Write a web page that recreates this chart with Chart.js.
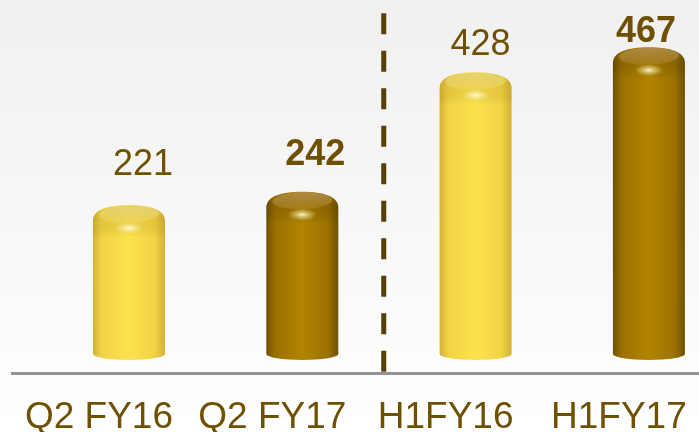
<!DOCTYPE html>
<html>
<head>
<meta charset="utf-8">
<script src="https://cdn.jsdelivr.net/npm/chart.js@4/dist/chart.umd.min.js"></script>
<style>
  html, body { margin: 0; padding: 0; }
  body {
    width: 699px; height: 432px; overflow: hidden;
    background: linear-gradient(to bottom, #f0f0f0 0px, #f4f4f4 120px, #f9f9f9 260px, #fdfdfd 372px, #ffffff 432px);
  }
  #wrap { position: relative; width: 699px; height: 432px; }
</style>
</head>
<body>
<div id="wrap"><canvas id="c" width="699" height="432"></canvas></div>
<script>
// Category labels along the axis, in drawing order
const categories = ['Q2 FY16', 'Q2 FY17', 'H1FY16', 'H1FY17'];
// Reporting periods; each has a FY16 and a FY17 bar
const periods = ['Q2', 'H1'];
const fy16Values = [221, 428];
const fy17Values = [242, 467];

const FONT = "'Liberation Sans', Arial, Helvetica, sans-serif";
const TEXT_BROWN = '#6f5000';

// position on the x axis: two bars per period
const toPoints = (vals, slot) => vals.map((v, p) => ({ x: p * 2 + slot, y: v }));

// Per-bar nudges (dx, lift above the top of the bar) for the value labels
const labelNudge = [[14, 30], [13, 27], [5, 17], [-3, 5]];

function drawCylinder(ctx, cx, top, bottom, w, pal) {
  const hw = w / 2;
  const capR = 16;   // rounding of the top rim
  const ryB = 6;     // bottom ellipse half-height

  ctx.save();
  // body silhouette
  ctx.beginPath();
  ctx.moveTo(cx - hw, bottom - ryB);
  ctx.lineTo(cx - hw, top + capR);
  ctx.bezierCurveTo(cx - hw, top + capR * 0.3, cx - hw * 0.6, top, cx, top);
  ctx.bezierCurveTo(cx + hw * 0.6, top, cx + hw, top + capR * 0.3, cx + hw, top + capR);
  ctx.lineTo(cx + hw, bottom - ryB);
  ctx.ellipse(cx, bottom - ryB, hw, ryB, 0, 0, Math.PI, false);
  ctx.closePath();
  const g = ctx.createLinearGradient(cx - hw, 0, cx + hw, 0);
  g.addColorStop(0, pal.edge);
  g.addColorStop(0.12, pal.mid);
  g.addColorStop(0.5, pal.bright);
  g.addColorStop(0.86, pal.mid);
  g.addColorStop(1, pal.edge);
  ctx.fillStyle = g;
  ctx.fill();
  ctx.clip();

  // darker band along the rounded rim
  const rim = ctx.createLinearGradient(0, top, 0, top + capR + 16);
  rim.addColorStop(0, 'rgba(0,0,0,0)');
  rim.addColorStop(0.55, pal.rimShade);
  rim.addColorStop(1, 'rgba(0,0,0,0)');
  ctx.fillStyle = rim;
  ctx.fillRect(cx - hw, top, w, capR + 16);

  // flat top face
  ctx.beginPath();
  ctx.ellipse(cx, top + 9, hw - 6, 8.5, -0.03, 0, Math.PI * 2);
  const f = ctx.createLinearGradient(0, top, 0, top + 18);
  f.addColorStop(0, pal.faceTop);
  f.addColorStop(1, pal.faceBottom);
  ctx.fillStyle = f;
  ctx.fill();

  // specular highlight on the front of the rim
  ctx.translate(cx, top + 23);
  ctx.scale(2.4, 1);
  const h = ctx.createRadialGradient(0, 0, 0, 0, 0, 6);
  h.addColorStop(0, 'rgba(255,255,235,0.9)');
  h.addColorStop(0.45, 'rgba(255,250,200,0.45)');
  h.addColorStop(1, 'rgba(255,250,200,0)');
  ctx.fillStyle = h;
  ctx.beginPath();
  ctx.arc(0, 0, 6, 0, Math.PI * 2);
  ctx.fill();
  ctx.restore();
}

const palettes = {
  light: { edge: '#d2b236', mid: '#f1d345', bright: '#fde24e', rimShade: 'rgba(170,130,0,0.16)',
           faceTop: 'rgba(225,205,120,0.85)', faceBottom: 'rgba(240,215,95,0.6)' },
  dark:  { edge: '#6f5100', mid: '#9a7100', bright: '#b28400', rimShade: 'rgba(60,40,0,0.16)',
           faceTop: 'rgba(170,140,80,0.9)', faceBottom: 'rgba(170,130,40,0.55)' }
};

const cylinderPlugin = {
  id: 'cylinders',
  afterDatasetsDraw(chart) {
    const ctx = chart.ctx;
    const yScale = chart.scales.y;
    const base = yScale.getPixelForValue(0) + 13;
    chart.data.datasets.forEach((ds, di) => {
      const meta = chart.getDatasetMeta(di);
      meta.data.forEach(el => {
        drawCylinder(ctx, el.x, el.y, base, el.width, palettes[ds.cylinder]);
      });
    });
  }
};

const valueLabelPlugin = {
  id: 'valueLabels',
  afterDatasetsDraw(chart) {
    const ctx = chart.ctx;
    ctx.save();
    ctx.fillStyle = TEXT_BROWN;
    ctx.textAlign = 'center';
    ctx.textBaseline = 'alphabetic';
    chart.data.datasets.forEach((ds, di) => {
      const meta = chart.getDatasetMeta(di);
      meta.data.forEach((el, i) => {
        const pt = ds.data[i];
        const n = labelNudge[pt.x];
        ctx.font = (ds.boldLabels ? 'bold ' : '') + '36px ' + FONT;
        ctx.fillText(String(pt.y), el.x + n[0], el.y - n[1]);
      });
    });
    ctx.restore();
  }
};

// dashed divider between the quarter and half-year groups
const dividerPlugin = {
  id: 'divider',
  beforeDatasetsDraw(chart, args, opts) {
    const ctx = chart.ctx;
    const x = chart.scales.x.getPixelForValue(opts.at);
    ctx.save();
    ctx.strokeStyle = '#56400a';
    ctx.lineWidth = 5;
    ctx.setLineDash([21, 16.5]);
    ctx.beginPath();
    ctx.moveTo(x, 13.3);
    ctx.lineTo(x, 372);
    ctx.stroke();
    ctx.restore();
  }
};

new Chart(document.getElementById('c'), {
  type: 'bar',
  data: {
    datasets: [
      { label: 'FY16', data: toPoints(fy16Values, 0), cylinder: 'light', boldLabels: false,
        backgroundColor: 'rgba(0,0,0,0)', barThickness: 72 },
      { label: 'FY17', data: toPoints(fy17Values, 1), cylinder: 'dark', boldLabels: true,
        backgroundColor: 'rgba(0,0,0,0)', barThickness: 72 }
    ]
  },
  options: {
    responsive: false,
    animation: false,
    events: [],
    layout: { autoPadding: false, padding: { left: 12, right: 0, top: 0, bottom: 0 } },
    plugins: {
      legend: { display: false },
      tooltip: { enabled: false },
      divider: { at: 1.47 }
    },
    datasets: { bar: { grouped: false } },
    scales: {
      x: {
        type: 'linear',
        offset: false,
        min: -0.675,
        max: 3.289,
        grid: { display: false, drawTicks: false },
        border: { display: true, color: '#939393', width: 3 },
        afterBuildTicks(axis) { axis.ticks = categories.map((c, i) => ({ value: i })); },
        afterFit(axis) {
          axis.height = 59;
          axis.paddingLeft = 0;
          axis.paddingRight = 0;
        },
        ticks: {
          padding: 23,
          labelOffset: -30,
          maxRotation: 0,
          autoSkip: false,
          color: TEXT_BROWN,
          font: { family: FONT, size: 37 },
          callback: (v) => categories[v]
        }
      },
      y: {
        display: false,
        min: -40.5,
        max: 540.5
      }
    }
  },
  plugins: [dividerPlugin, cylinderPlugin, valueLabelPlugin]
});
</script>
</body>
</html>
